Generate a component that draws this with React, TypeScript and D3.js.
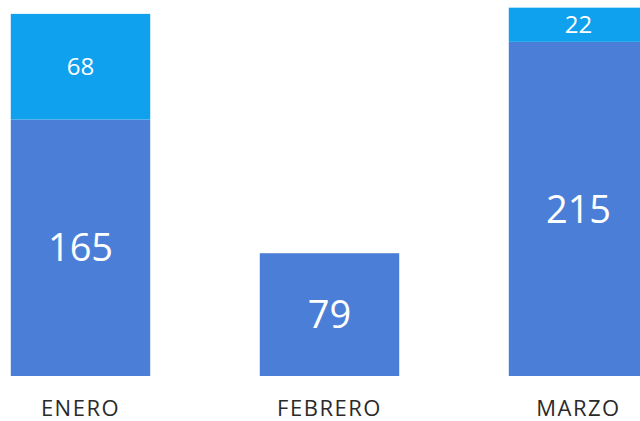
import React, { useEffect, useRef } from 'react';
import * as d3 from 'd3';

const months = ['ENERO', 'FEBRERO', 'MARZO'];
const baseValues = [165, 79, 215];
const topValues = [68, 0, 22];

const width = 640;
const height = 421;

const App: React.FC = () => {
  const svgRef = useRef<SVGSVGElement>(null);

  useEffect(() => {
    if (!svgRef.current) return;
    const svg = d3.select(svgRef.current);
    svg.selectAll('*').remove();

    const x = d3.scaleBand<string>()
      .domain(months)
      .range([-44, 703])
      .paddingInner(0.44)
      .paddingOuter(0.22);

    const y = d3.scaleLinear()
      .domain([0, 240])
      .range([376, 3]);

    const data = months.map((m, i) => ({ month: m, base: baseValues[i], top: topValues[i] }));

    const g = svg.append('g');

    // lower segment
    g.selectAll('.base')
      .data(data)
      .enter().append('rect')
      .attr('class', 'base')
      .attr('x', d => x(d.month)!)
      .attr('width', x.bandwidth())
      .attr('y', d => y(d.base))
      .attr('height', d => y(0) - y(d.base))
      .attr('fill', '#4b7fd7');

    // upper segment
    g.selectAll('.top')
      .data(data.filter(d => d.top > 0))
      .enter().append('rect')
      .attr('class', 'top')
      .attr('x', d => x(d.month)!)
      .attr('width', x.bandwidth())
      .attr('y', d => y(d.base + d.top))
      .attr('height', d => y(d.base) - y(d.base + d.top))
      .attr('fill', '#10a1ee');

    const font = "'Open Sans', 'DejaVu Sans', sans-serif";

    // value labels
    g.selectAll('.baseLabel')
      .data(data)
      .enter().append('text')
      .attr('x', d => x(d.month)! + x.bandwidth() / 2)
      .attr('y', d => (y(0) + y(d.base)) / 2)
      .attr('dy', '0.36em')
      .attr('text-anchor', 'middle')
      .attr('fill', '#fff')
      .attr('font-family', font)
      .attr('font-size', '38px')
      .text(d => d.base);

    g.selectAll('.topLabel')
      .data(data.filter(d => d.top > 0))
      .enter().append('text')
      .attr('x', d => x(d.month)! + x.bandwidth() / 2)
      .attr('y', d => (y(d.base) + y(d.base + d.top)) / 2)
      .attr('dy', '0.36em')
      .attr('text-anchor', 'middle')
      .attr('fill', '#fff')
      .attr('font-family', font)
      .attr('font-size', '24px')
      .text(d => d.top);

    // category labels
    g.selectAll('.cat')
      .data(months)
      .enter().append('text')
      .attr('x', d => x(d)! + x.bandwidth() / 2)
      .attr('y', 416)
      .attr('text-anchor', 'middle')
      .attr('fill', '#2a2a2a')
      .attr('font-family', font)
      .attr('font-size', '22px')
      .attr('letter-spacing', '1.5px')
      .text(d => d);
  }, []);

  return (
    <svg
      ref={svgRef}
      width={width}
      height={height}
      style={{ position: 'absolute', left: 0, top: 0, background: '#fff' }}
    />
  );
};

export default App;
